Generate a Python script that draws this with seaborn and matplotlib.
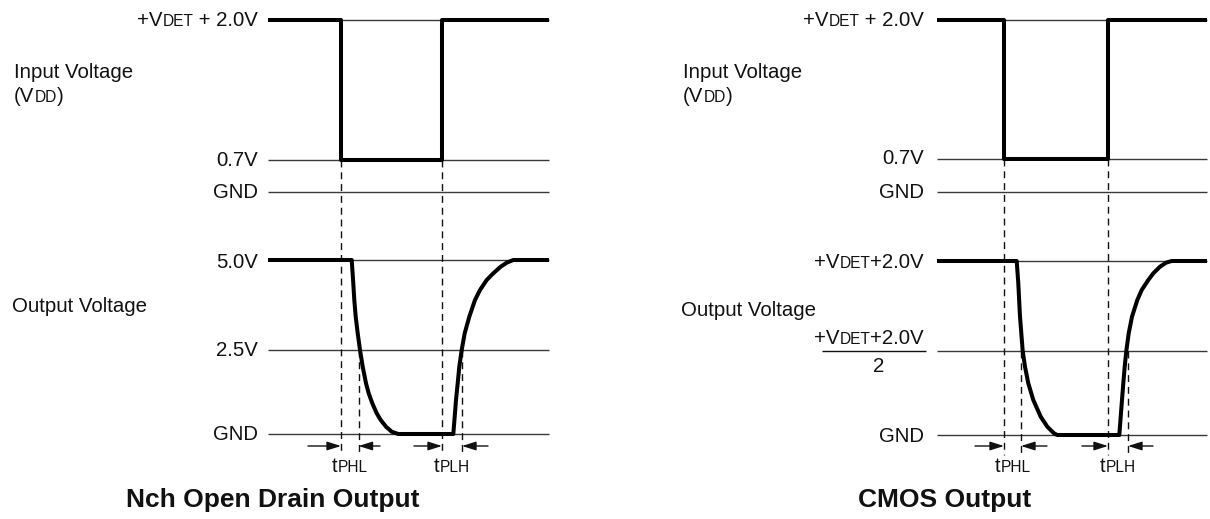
import numpy as np
import pandas as pd
import matplotlib
matplotlib.use('Agg')
import matplotlib.pyplot as plt
import seaborn as sns
from matplotlib.offsetbox import TextArea, HPacker, AnnotationBbox

# --- data (time axis = horizontal, level = vertical row) ---
# Nch open drain panel
nch_span = (268, 549)
nch_levels = [20, 160, 192, 260, 350, 434]          # +VDET+2.0V, 0.7V, GND, 5.0V, 2.5V, GND
nch_in_t = [268, 341, 341, 442, 442, 549]
nch_in_v = [20, 20, 160, 160, 20, 20]
nch_out_t = [268, 351.7, 353.3, 354.3, 355.7, 357.7, 360, 362.7, 366, 368.7, 372.3,
             376.7, 380.7, 386, 391.7, 398.3,
             453.3, 454.7, 456, 457.7, 459.3, 461.7, 464.7, 469.3, 475, 480,
             486.7, 493.3, 500.7, 506.7, 513.3, 549]
nch_out_v = [260, 260, 283.3, 300, 316.7, 333.3, 350, 366.7, 383.3, 393.3, 403.3,
             413.3, 420, 426.7, 431.7, 434,
             434, 416.7, 400, 383.3, 366.7, 350, 333.3, 316.7, 300, 290,
             280, 273.3, 266.7, 262.7, 260, 260]
nch_edges = [341, 442]            # input edges
nch_cross = [358.5, 462]          # 50 % crossings
nch_arrows = [(308, 341), (380, 358.5), (414, 442), (488, 462)]

# CMOS panel
cmos_span = (937, 1207)
cmos_levels = [20, 159, 192, 261, 351, 435]
cmos_in_t = [937, 1004, 1004, 1108, 1108, 1207]
cmos_in_v = [20, 20, 159, 159, 20, 20]
cmos_out_t = [937, 1016.7, 1018.3, 1020, 1022.7, 1025, 1028.3, 1033.3, 1040.7,
              1047.3, 1054, 1057.3,
              1119.3, 1120.7, 1122, 1123.3, 1124.7, 1126.3, 1128.7, 1132, 1137.3,
              1141.7, 1148.3, 1153.3, 1160, 1166, 1171.7, 1207]
cmos_out_v = [261, 261, 283.3, 316.7, 351, 366.7, 383.3, 400, 416.7,
              426.7, 433.3, 435,
              435, 416.7, 400, 383.3, 366.7, 351, 333.3, 316.7, 300,
              290, 280, 273.3, 266.7, 262.7, 261, 261]
cmos_edges = [1004, 1108]
cmos_cross = [1021, 1128]
cmos_arrows = [(975, 1004), (1047, 1021), (1082, 1108), (1153, 1128)]

INK = '#111111'
GRID = '#3a3a3a'
FONT = ['Liberation Sans', 'DejaVu Sans']
LABEL = 14.7
SMALL = 11.2
TITLE = 19

sns.set_theme(style='white')
plt.rcParams['font.family'] = FONT

fig = plt.figure(figsize=(12.1, 5.19), dpi=100)
ax = fig.add_axes([0, 0, 1, 1])


def rich(x, y, parts, ha='right', weight='normal'):
    areas = [TextArea(s, textprops=dict(fontsize=fs, family=FONT, color=INK,
                                        fontweight=weight)) for s, fs in parts]
    box = HPacker(children=areas, align='baseline', pad=0, sep=0)
    bx = {'right': 1, 'left': 0, 'center': 0.5}[ha]
    ab = AnnotationBbox(box, (x, y), xycoords='data', box_alignment=(bx, 0.5),
                        frameon=False, pad=0, annotation_clip=False)
    ax.add_artist(ab)


def panel(span, levels, in_t, in_v, out_t, out_v, edges, cross, arrows):
    # thin reference levels
    ax.hlines(levels, span[0], span[1], color=GRID, lw=1.0, zorder=1)
    # dashed timing markers
    ax.vlines(edges, levels[1], 455, color=INK, lw=1.0, ls=(0, (5, 3.5)), zorder=1)
    ax.vlines(cross, levels[4], 455, color=INK, lw=1.0, ls=(0, (5, 3.5)), zorder=1)
    # waveforms
    df = pd.DataFrame({'t': in_t + out_t, 'v': in_v + out_v,
                       'trace': ['in'] * len(in_t) + ['out'] * len(out_t)})
    sns.lineplot(data=df, x='t', y='v', units='trace', estimator=None, sort=False,
                 color='black', lw=2.9, legend=False, ax=ax,
                 solid_joinstyle='round', solid_capstyle='butt', zorder=3)
    # propagation delay arrows
    for start, tip in arrows:
        ax.annotate('', xy=(tip, 446), xytext=(start, 446),
                    arrowprops=dict(arrowstyle='-|>,head_length=0.7,head_width=0.22',
                                    color=INK, lw=1.0, shrinkA=0, shrinkB=0))
    rich((edges[0] + cross[0]) / 2, 467, [('t', LABEL), ('PHL', SMALL)], ha='center')
    rich((edges[1] + cross[1]) / 2, 467, [('t', LABEL), ('PLH', SMALL)], ha='center')


panel(nch_span, nch_levels, nch_in_t, nch_in_v, nch_out_t, nch_out_v,
      nch_edges, nch_cross, nch_arrows)
panel(cmos_span, cmos_levels, cmos_in_t, cmos_in_v, cmos_out_t, cmos_out_v,
      cmos_edges, cmos_cross, cmos_arrows)

ax.set_xlim(0, 1210)
ax.set_ylim(519, 0)
ax.axis('off')

# left panel labels
rich(258, 21, [('+V', LABEL), ('DET', SMALL), (' + 2.0V', LABEL)])
rich(258, 160, [('0.7V', LABEL)])
rich(258, 192, [('GND', LABEL)])
rich(258, 262, [('5.0V', LABEL)])
rich(258, 350, [('2.5V', LABEL)])
rich(258, 435, [('GND', LABEL)])
rich(14, 72, [('Input Voltage', LABEL)], ha='left')
rich(14, 96, [('(V', LABEL), ('DD', SMALL), (')', LABEL)], ha='left')
rich(12, 307, [('Output Voltage', LABEL)], ha='left')
rich(273, 500, [('Nch Open Drain Output', TITLE)], ha='center', weight='bold')

# right panel labels
rich(924, 20, [('+V', LABEL), ('DET', SMALL), (' + 2.0V', LABEL)])
rich(924, 159, [('0.7V', LABEL)])
rich(924, 192, [('GND', LABEL)])
rich(924, 263, [('+V', LABEL), ('DET', SMALL), ('+2.0V', LABEL)])
rich(924, 338, [('+V', LABEL), ('DET', SMALL), ('+2.0V', LABEL)])
ax.hlines(351, 822, 926, color=INK, lw=1.0)
rich(879, 366, [('2', LABEL)], ha='center')
rich(924, 437, [('GND', LABEL)])
rich(683, 72, [('Input Voltage', LABEL)], ha='left')
rich(683, 97, [('(V', LABEL), ('DD', SMALL), (')', LABEL)], ha='left')
rich(681, 310, [('Output Voltage', LABEL)], ha='left')
rich(945, 500, [('CMOS Output', TITLE)], ha='center', weight='bold')

fig.savefig('out.png', dpi=100, facecolor='white')
